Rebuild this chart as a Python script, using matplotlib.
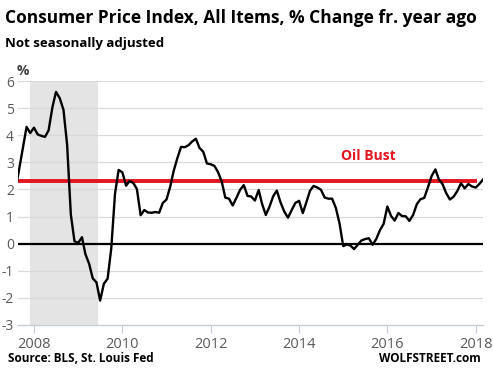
import matplotlib
matplotlib.use('Agg')
import matplotlib.pyplot as plt
import pandas as pd

# monthly CPI-U, % change from a year ago, Aug 2007 .. Mar 2018
start = '2007-08-01'
cpi = [1.97, 2.76, 3.54, 4.31, 4.08,
       4.28, 4.03, 3.98, 3.94, 4.18, 5.02, 5.60, 5.37, 4.94, 3.66, 1.07, 0.09,
       0.03, 0.24, -0.38, -0.74, -1.28, -1.43, -2.10, -1.48, -1.29, -0.18, 1.84, 2.72,
       2.63, 2.14, 2.31, 2.24, 2.02, 1.05, 1.24, 1.15, 1.14, 1.17, 1.14, 1.50,
       1.63, 2.11, 2.68, 3.16, 3.57, 3.56, 3.63, 3.77, 3.87, 3.53, 3.39, 2.96,
       2.93, 2.87, 2.65, 2.30, 1.70, 1.66, 1.41, 1.69, 1.99, 2.16, 1.76, 1.74,
       1.59, 1.98, 1.47, 1.06, 1.36, 1.75, 1.96, 1.52, 1.18, 0.96, 1.24, 1.50,
       1.58, 1.13, 1.51, 1.95, 2.13, 2.07, 1.99, 1.70, 1.66, 1.66, 1.32, 0.76,
       -0.09, -0.03, -0.07, -0.20, -0.04, 0.12, 0.17, 0.20, -0.04, 0.17, 0.50, 0.73,
       1.37, 1.02, 0.85, 1.13, 1.02, 1.01, 0.84, 1.06, 1.46, 1.64, 1.69, 2.07,
       2.50, 2.74, 2.38, 2.20, 1.87, 1.63, 1.73, 1.94, 2.23, 2.04, 2.20, 2.11,
       2.07, 2.21, 2.36]
recession = ('2007-12-01', '2009-06-15')
oil_bust_level = 2.33
oil_bust_span = ('2007-08-25', '2018-01-10')
year_ticks = ['2008', '2010', '2012', '2014', '2016', '2018']
y_ticks = [-3, -2, -1, 0, 1, 2, 3, 4, 5, 6]

dates = pd.date_range(start, periods=len(cpi), freq='MS')

plt.rcParams['font.family'] = ['Open Sans', 'DejaVu Sans']

fig = plt.figure(figsize=(4.93, 3.77), dpi=100)
ax = fig.add_axes([0.0365, 0.138, 0.944, 0.647])

ax.axvspan(pd.Timestamp(recession[0]), pd.Timestamp(recession[1]),
           color='#e4e4e4', lw=0, zorder=0)
for v in y_ticks[1:]:
    if v != 0:
        ax.axhline(v, color='#d9d9d9', lw=0.9, zorder=1)
ax.axhline(0, color='black', lw=1.6, zorder=2)
ax.hlines(oil_bust_level, pd.Timestamp(oil_bust_span[0]), pd.Timestamp(oil_bust_span[1]),
          color='#e3151f', lw=2.8, zorder=3)
ax.plot(dates, cpi, color='black', lw=1.7, zorder=4)

ax.set_ylim(-3, 6)
ax.set_xlim(pd.Timestamp('2007-08-22'), pd.Timestamp('2018-03-05'))
ax.set_yticks(y_ticks)
ax.set_yticklabels([str(v) for v in y_ticks])
ax.set_xticks([pd.Timestamp(y + '-01-01') for y in year_ticks])
ax.set_xticklabels(year_ticks)

for s in ['top', 'right', 'left']:
    ax.spines[s].set_visible(False)
ax.spines['bottom'].set_color('#c5ccd8')
ax.spines['bottom'].set_linewidth(1.0)
ax.tick_params(axis='x', length=6, color='#c5ccd8', labelsize=10.5,
               labelcolor='#595959', pad=3)
ax.tick_params(axis='y', length=0, labelsize=10, labelcolor='#595959', pad=3)

ax.text(pd.Timestamp('2014-12-15'), 3.1, 'Oil Bust', color='#e3151f',
        fontsize=10, fontweight='bold')

fig.text(0.01, 0.94, 'Consumer Price Index, All Items, % Change fr. year ago',
         fontsize=12.5, fontweight='bold', color='black')
fig.text(0.01, 0.875, 'Not seasonally adjusted', fontsize=9.5, fontweight='bold')
fig.text(0.034, 0.80, '%', fontsize=10, fontweight='bold', color='#404040')
fig.text(0.016, 0.04, 'Source: BLS, St. Louis Fed', fontsize=8.5, fontweight='bold')
fig.text(0.975, 0.04, 'WOLFSTREET.com', fontsize=8.5, fontweight='bold', ha='right')

fig.savefig('out.png', dpi=100)
